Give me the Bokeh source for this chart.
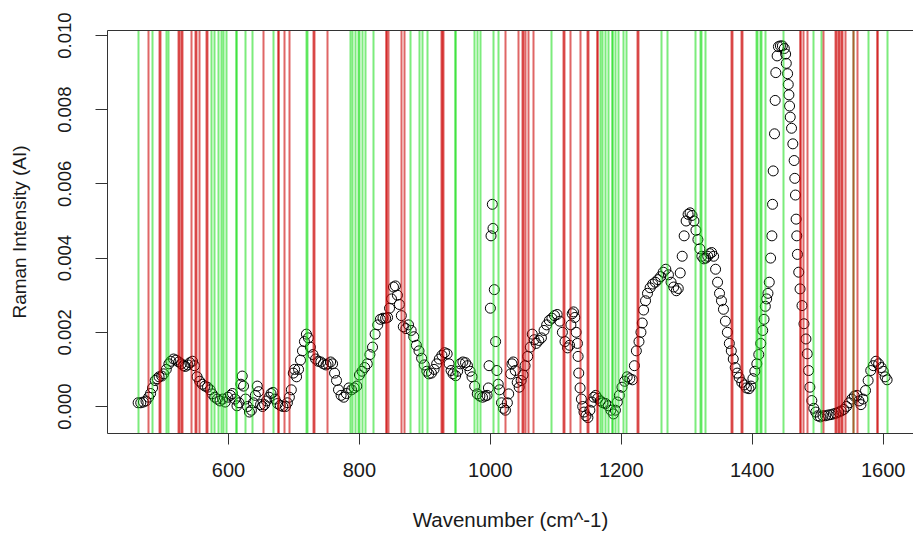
from bokeh.plotting import figure
from bokeh.models import Range1d, FixedTicker, LinearAxis
from bokeh.embed import file_html
from bokeh.resources import INLINE

# ---- data ----
wavenumber = [
    462, 466, 470, 474, 478, 481, 484, 488, 491, 494, 498, 501, 505, 509, 512, 516,
    520, 524, 528, 531, 534, 538, 541, 545, 548, 552, 556, 560, 564, 568, 572, 575,
    579, 583, 587, 591, 595, 599, 603, 606, 610, 613, 616, 619, 621, 623, 626, 629,
    632, 635, 638, 641, 644, 646, 649, 652, 655, 658, 662, 665, 668, 671, 675, 679,
    683, 687, 690, 693, 696, 699, 701, 704, 707, 710, 713, 716, 719, 722, 725, 729,
    733, 737, 741, 745, 749, 752, 756, 759, 762, 765, 768, 772, 776, 780, 784, 788,
    792, 796, 800, 804, 808, 812, 816, 820, 824, 828, 832, 836, 840, 843, 846, 849,
    852, 855, 858, 861, 864, 867, 871, 875, 879, 883, 887, 891, 895, 899, 903, 906,
    910, 914, 918, 922, 926, 930, 934, 937, 940, 943, 947, 950, 954, 958, 962, 965,
    969, 972, 976, 980, 984, 988, 992, 995, 997, 998, 1000, 1001, 1003, 1004, 1006, 1008,
    1010, 1012, 1014, 1017, 1020, 1023, 1026, 1028, 1031, 1033, 1035, 1038, 1041, 1044, 1047, 1050,
    1053, 1057, 1061, 1064, 1067, 1070, 1074, 1078, 1082, 1086, 1090, 1094, 1098, 1102, 1106, 1110,
    1114, 1118, 1121, 1123, 1125, 1127, 1129, 1131, 1133, 1134, 1135, 1137, 1139, 1141, 1143, 1146,
    1149, 1152, 1155, 1158, 1161, 1164, 1168, 1172, 1176, 1180, 1184, 1188, 1191, 1194, 1197, 1201,
    1205, 1209, 1213, 1217, 1220, 1223, 1227, 1230, 1232, 1234, 1237, 1240, 1244, 1248, 1252, 1256,
    1260, 1264, 1268, 1272, 1276, 1280, 1284, 1287, 1290, 1293, 1296, 1299, 1302, 1305, 1308, 1311,
    1314, 1317, 1320, 1323, 1326, 1329, 1332, 1335, 1338, 1341, 1344, 1347, 1350, 1353, 1356, 1359,
    1362, 1365, 1368, 1371, 1374, 1377, 1380, 1384, 1388, 1391, 1395, 1398, 1401, 1404, 1407, 1410,
    1413, 1416, 1418, 1420, 1422, 1424, 1426, 1428, 1430, 1431, 1432, 1434, 1435, 1436, 1438, 1440,
    1443, 1446, 1449, 1451, 1452, 1454, 1455, 1456, 1457, 1458, 1460, 1462, 1464, 1465, 1466, 1467,
    1468, 1469, 1471, 1473, 1476, 1479, 1482, 1484, 1486, 1488, 1491, 1494, 1497, 1500, 1504, 1508,
    1512, 1516, 1520, 1524, 1528, 1532, 1536, 1540, 1544, 1548, 1552, 1556, 1560, 1563, 1566, 1569,
    1573, 1577, 1581, 1585, 1589, 1593, 1597, 1600, 1603, 1606,
]
intensity = [
    0.00010, 0.00010, 0.00012, 0.00015, 0.00025, 0.00035, 0.00050, 0.00070, 0.00075, 0.00080, 0.00082, 0.00088, 0.00100, 0.00115, 0.00122, 0.00128,
    0.00125, 0.00120, 0.00115, 0.00110, 0.00108, 0.00112, 0.00118, 0.00122, 0.00110, 0.00080, 0.00068, 0.00060, 0.00055, 0.00052, 0.00045, 0.00034,
    0.00025, 0.00020, 0.00015, 0.00020, 0.00012, 0.00025, 0.00030, 0.00035, 0.00020, 0.00002, 0.00010, 0.00060, 0.00082, 0.00055, 0.00020, 0.00000,
    -0.00015, -0.00010, 0.00010, 0.00030, 0.00055, 0.00040, 0.00005, 0.00000, 0.00005, 0.00015, 0.00025, 0.00035, 0.00038, 0.00020, 0.00008, 0.00003,
    0.00000, 0.00000, 0.00010, 0.00025, 0.00045, 0.00090, 0.00100, 0.00080, 0.00100, 0.00125, 0.00150, 0.00175, 0.00195, 0.00185, 0.00160, 0.00140,
    0.00128, 0.00122, 0.00120, 0.00115, 0.00112, 0.00115, 0.00120, 0.00115, 0.00090, 0.00070, 0.00045, 0.00030, 0.00025, 0.00035, 0.00050, 0.00045,
    0.00050, 0.00055, 0.00085, 0.00095, 0.00105, 0.00115, 0.00140, 0.00160, 0.00195, 0.00220, 0.00235, 0.00238, 0.00238, 0.00240, 0.00265, 0.00290,
    0.00322, 0.00325, 0.00300, 0.00275, 0.00245, 0.00215, 0.00210, 0.00220, 0.00205, 0.00188, 0.00165, 0.00150, 0.00130, 0.00112, 0.00095, 0.00088,
    0.00090, 0.00100, 0.00115, 0.00128, 0.00138, 0.00145, 0.00142, 0.00115, 0.00097, 0.00088, 0.00083, 0.00095, 0.00115, 0.00120, 0.00118, 0.00110,
    0.00095, 0.00080, 0.00055, 0.00034, 0.00028, 0.00025, 0.00028, 0.00030, 0.00050, 0.00110, 0.00265, 0.00460, 0.00545, 0.00480, 0.00315, 0.00175,
    0.00097, 0.00060, 0.00045, 0.00010, -0.00005, -0.00010, 0.00010, 0.00034, 0.00088, 0.00115, 0.00120, 0.00097, 0.00065, 0.00052, 0.00070, 0.00085,
    0.00110, 0.00135, 0.00160, 0.00195, 0.00180, 0.00170, 0.00178, 0.00185, 0.00205, 0.00220, 0.00232, 0.00238, 0.00245, 0.00248, 0.00230, 0.00200,
    0.00175, 0.00158, 0.00165, 0.00220, 0.00250, 0.00255, 0.00240, 0.00200, 0.00170, 0.00135, 0.00090, 0.00050, 0.00020, 0.00000, -0.00015, -0.00025,
    -0.00030, -0.00010, 0.00012, 0.00025, 0.00030, 0.00022, 0.00015, 0.00010, 0.00008, 0.00002, -0.00010, -0.00020, -0.00010, 0.00012, 0.00030, 0.00052,
    0.00068, 0.00080, 0.00075, 0.00072, 0.00110, 0.00150, 0.00175, 0.00200, 0.00225, 0.00260, 0.00285, 0.00305, 0.00320, 0.00330, 0.00335, 0.00342,
    0.00350, 0.00362, 0.00370, 0.00355, 0.00335, 0.00322, 0.00312, 0.00318, 0.00360, 0.00405, 0.00460, 0.00500, 0.00518, 0.00522, 0.00515, 0.00500,
    0.00475, 0.00450, 0.00425, 0.00405, 0.00398, 0.00400, 0.00405, 0.00412, 0.00415, 0.00405, 0.00370, 0.00335, 0.00305, 0.00285, 0.00262, 0.00230,
    0.00200, 0.00170, 0.00150, 0.00128, 0.00105, 0.00090, 0.00078, 0.00065, 0.00058, 0.00050, 0.00048, 0.00055, 0.00075, 0.00095, 0.00115, 0.00140,
    0.00170, 0.00205, 0.00235, 0.00270, 0.00290, 0.00305, 0.00335, 0.00400, 0.00460, 0.00545, 0.00635, 0.00735, 0.00825, 0.00900, 0.00945, 0.00970,
    0.00972, 0.00972, 0.00965, 0.00950, 0.00925, 0.00897, 0.00868, 0.00840, 0.00810, 0.00780, 0.00750, 0.00708, 0.00663, 0.00615, 0.00570, 0.00505,
    0.00460, 0.00410, 0.00362, 0.00317, 0.00272, 0.00223, 0.00182, 0.00142, 0.00097, 0.00052, 0.00016, -0.00005, -0.00015, -0.00025, -0.00028, -0.00025,
    -0.00025, -0.00023, -0.00022, -0.00020, -0.00018, -0.00015, -0.00012, -0.00008, 0.00000, 0.00010, 0.00020, 0.00028, 0.00030, 0.00015, 0.00005, 0.00020,
    0.00043, 0.00070, 0.00097, 0.00110, 0.00122, 0.00115, 0.00105, 0.00095, 0.00080, 0.00072,
]

green_peaks = [
    462, 484, 505, 508, 574, 578, 584, 589, 592, 597, 612, 613, 626, 637, 668,
    719, 720, 786, 789, 794, 799, 800, 805, 810, 821, 878, 891, 896, 904, 946, 947,
    975, 980, 985, 1005, 1013, 1094, 1168, 1171, 1176, 1181, 1186, 1187, 1191, 1196,
    1204, 1208, 1262, 1270, 1313, 1321, 1322, 1329, 1407, 1408, 1413, 1414, 1421,
    1448, 1494, 1506, 1555, 1578, 1606,
]
red_peaks = [
    478, 495, 496, 524, 525, 528, 529, 543, 550, 551, 556, 567, 568, 654, 676, 677,
    686, 693, 730, 731, 751, 841, 842, 844, 865, 869, 926, 927, 928, 1023, 1043,
    1049, 1050, 1054, 1059, 1066, 1112, 1113, 1123, 1137, 1149, 1150, 1163, 1164,
    1225, 1226, 1369, 1370, 1384, 1385, 1473, 1474, 1479, 1484, 1509, 1527, 1528,
    1532, 1533, 1537, 1538, 1542, 1555, 1561, 1591, 1592,
]

x_ticks = [600, 800, 1000, 1200, 1400, 1600]
y_ticks = [0.000, 0.002, 0.004, 0.006, 0.008, 0.010]
y_tick_labels = ["0.000", "0.002", "0.004", "0.006", "0.008", "0.010"]

FONT = "Liberation Sans"
TXT = "#1a1a1a"

p = figure(width=913, height=533, output_backend="svg", toolbar_location=None,
           x_range=Range1d(415.2, 1646.3), y_range=Range1d(-0.000728, 0.010135),
           min_border_left=107, min_border_right=0, min_border_top=30, min_border_bottom=100)
p.grid.visible = False
p.outline_line_color = None
p.background_fill_color = "white"
p.border_fill_color = "white"

p.scatter(wavenumber, intensity, marker="circle", size=10, fill_color=None,
          line_color="black", line_width=1)

p.vspan(x=green_peaks, line_color="#11DD11", line_width=2, line_alpha=0.55)
p.vspan(x=red_peaks, line_color="#CC0000", line_width=2, line_alpha=0.6)

xa = p.xaxis[0]
xa.ticker = FixedTicker(ticks=x_ticks)
xa.minor_tick_line_color = None
xa.major_tick_out = 11
xa.major_tick_in = 0
xa.axis_line_color = "#333333"
xa.major_tick_line_color = "#333333"
xa.major_label_text_font = FONT
xa.major_label_text_font_size = "20px"
xa.major_label_text_color = TXT
xa.major_label_standoff = 18
xa.axis_label = "Wavenumber (cm^-1)"
xa.axis_label_text_font = FONT
xa.axis_label_text_font_size = "20.5px"
xa.axis_label_text_font_style = "normal"
xa.axis_label_text_color = TXT
xa.axis_label_standoff = 28

ya = p.yaxis[0]
ya.ticker = FixedTicker(ticks=y_ticks)
ya.major_label_overrides = {t: s for t, s in zip(y_ticks, y_tick_labels)}
ya.major_label_orientation = "vertical"
ya.minor_tick_line_color = None
ya.major_tick_out = 12
ya.major_tick_in = 0
ya.axis_line_color = "#333333"
ya.major_tick_line_color = "#333333"
ya.major_label_text_font = FONT
ya.major_label_text_font_size = "18.5px"
ya.major_label_text_color = TXT
ya.major_label_standoff = 24
ya.axis_label = "Raman Intensity (AI)"
ya.axis_label_text_font = FONT
ya.axis_label_text_font_size = "19px"
ya.axis_label_text_font_style = "normal"
ya.axis_label_text_color = TXT
ya.axis_label_standoff = 26

top = LinearAxis(ticker=FixedTicker(ticks=[]), major_tick_line_color=None,
                 minor_tick_line_color=None, axis_line_color="#333333")
p.add_layout(top, "above")

open("out.html", "w").write(file_html(p, INLINE))
